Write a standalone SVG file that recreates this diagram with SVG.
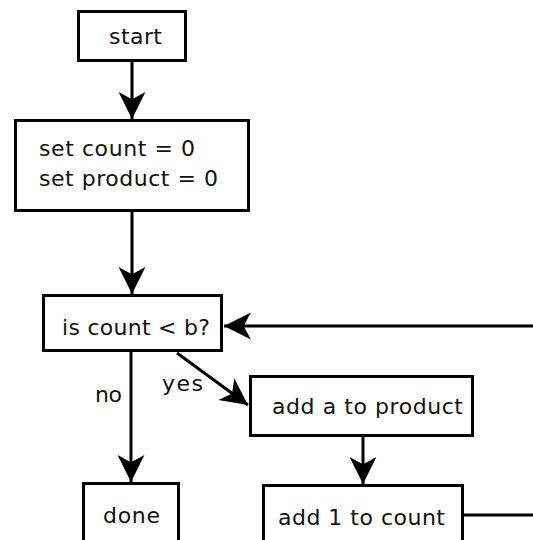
<svg xmlns="http://www.w3.org/2000/svg" width="533" height="540" viewBox="0 0 533 540">
<style>
.box{fill:#fff;stroke:#000;stroke-width:3}
.c{fill:none;stroke:#000;stroke-width:3}
text{font-family:"DejaVu Sans",sans-serif;font-size:22px;fill:#111}
</style>
<defs>
<marker id="ah" markerUnits="userSpaceOnUse" markerWidth="30" markerHeight="30" viewBox="-28 -14 29 28" refX="0" refY="0" orient="auto">
<path d="M0,0 L-26,-13 L-19,0 L-26,13 Z" fill="#000"/>
</marker>
</defs>
<rect width="533" height="540" fill="#fff"/>
<g id="connectors">
<line class="c" x1="132" y1="62" x2="132" y2="119" marker-end="url(#ah)"/>
<line class="c" x1="132" y1="212" x2="132" y2="294" marker-end="url(#ah)"/>
<line class="c" x1="533" y1="326" x2="224" y2="326" marker-end="url(#ah)"/>
<line class="c" x1="131" y1="352" x2="131" y2="482" marker-end="url(#ah)"/>
<line class="c" x1="177" y1="353" x2="248" y2="405" marker-end="url(#ah)"/>
<line class="c" x1="363" y1="437" x2="363" y2="484" marker-end="url(#ah)"/>
<line class="c" x1="464" y1="515" x2="533" y2="515"/>
<text x="95" y="402" textLength="27">no</text>
<text x="162" y="391" textLength="41">yes</text>
</g>
<g id="start">
<rect class="box" x="78.5" y="11.5" width="107" height="49"/>
<text x="109" y="44" textLength="53">start</text>
</g>
<g id="init">
<rect class="box" x="15.5" y="120.5" width="233" height="90"/>
<text x="39" y="156" textLength="156">set count = 0</text>
<text x="39" y="186" textLength="179">set product = 0</text>
</g>
<g id="decision">
<rect class="box" x="43.5" y="295.5" width="178" height="55"/>
<text x="62" y="335" textLength="148">is count &lt; b?</text>
</g>
<g id="addA">
<rect class="box" x="250.5" y="376.5" width="222" height="59"/>
<text x="272" y="414" textLength="191">add a to product</text>
</g>
<g id="done">
<rect class="box" x="83.5" y="483.5" width="95" height="70"/>
<text x="103" y="523" textLength="57">done</text>
</g>
<g id="add1">
<rect class="box" x="263.5" y="485.5" width="199" height="70"/>
<text x="278" y="525" textLength="167">add 1 to count</text>
</g>
</svg>
